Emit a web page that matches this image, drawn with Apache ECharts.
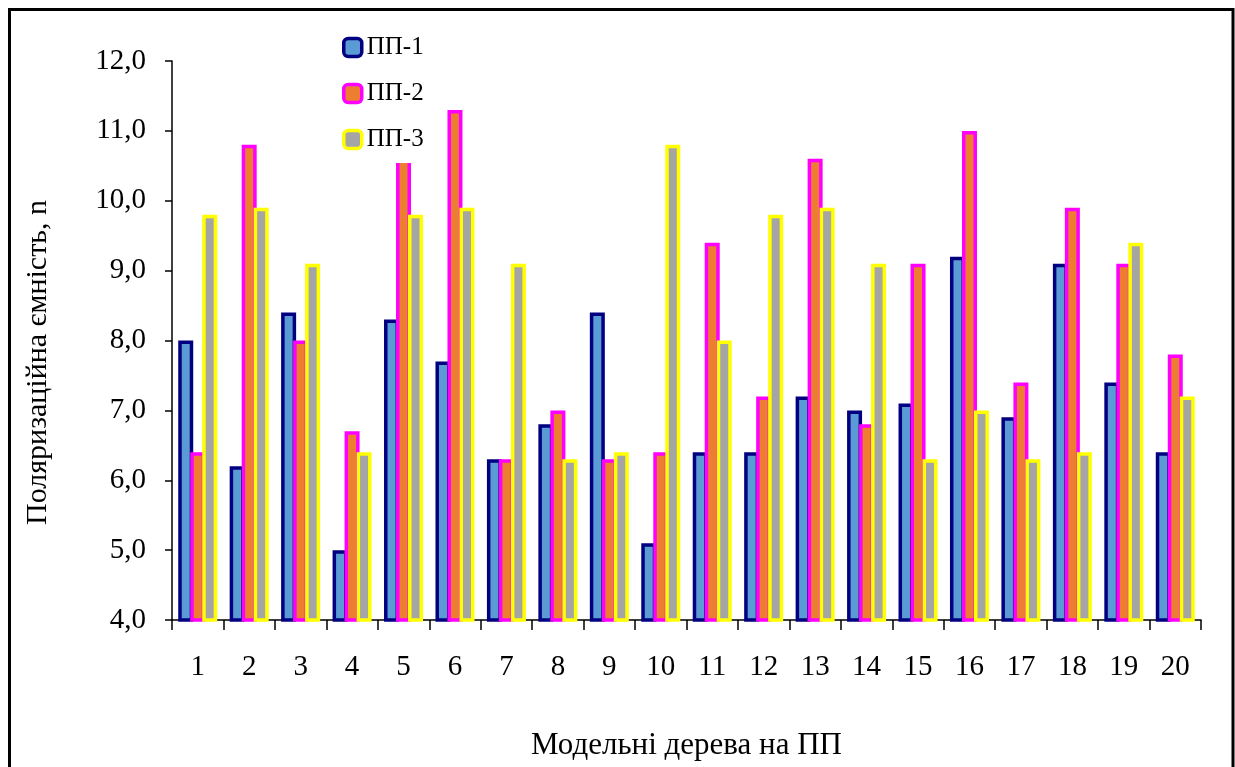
<!DOCTYPE html>
<html>
<head>
<meta charset="utf-8">
<script src="https://cdn.jsdelivr.net/npm/echarts@6/dist/echarts.min.js"></script>
<style>
html,body{margin:0;padding:0;background:#fff;}
#chart{width:1235px;height:767px;}
</style>
</head>
<body>
<div id="chart"></div>
<script>
const categories = ['1','2','3','4','5','6','7','8','9','10','11','12','13','14','15','16','17','18','19','20'];
const seriesNames = ['ПП-1','ПП-2','ПП-3'];
const pp1 = [8.0, 6.2, 8.4, 5.0, 8.3, 7.7, 6.3, 6.8, 8.4, 5.1, 6.4, 6.4, 7.2, 7.0, 7.1, 9.2, 6.9, 9.1, 7.4, 6.4];
const pp2 = [6.4, 10.8, 8.0, 6.7, 10.8, 11.3, 6.3, 7.0, 6.3, 6.4, 9.4, 7.2, 10.6, 6.8, 9.1, 11.0, 7.4, 9.9, 9.1, 7.8];
const pp3 = [9.8, 9.9, 9.1, 6.4, 9.8, 9.9, 9.1, 6.3, 6.4, 10.8, 8.0, 9.8, 9.9, 9.1, 6.3, 7.0, 6.3, 6.4, 9.4, 7.2];
const yTitle = 'Поляризаційна ємність, n';
const xTitle = 'Модельні дерева на ПП';

const font = 'Liberation Serif';
const fills = ['#5B9BD5', '#ED7D31', '#A5A5A5'];
const borders = ['#000080', '#FF00FF', '#FFFF00'];
const values = [pp1, pp2, pp3];

const chart = echarts.init(document.getElementById('chart'), null, {renderer: 'canvas'});
chart.setOption({
  animation: false,
  backgroundColor: '#ffffff',
  textStyle: {fontFamily: font, color: '#000'},
  graphic: [{
    type: 'rect', z: 0, silent: true,
    shape: {x: 9.5, y: 9.5, width: 1223.5, height: 800},
    style: {fill: 'none', stroke: '#000', lineWidth: 3}
  }],
  grid: {left: 172, right: 34, top: 61, bottom: 147, containLabel: false},
  legend: {
    orient: 'vertical',
    left: 332, top: 25,
    padding: [10, 10, 11, 10],
    backgroundColor: '#ffffff',
    itemWidth: 18, itemHeight: 18,
    itemGap: 21,
    data: seriesNames,
    itemStyle: {borderWidth: 3.5},
    textStyle: {fontFamily: font, fontSize: 25, color: '#000', lineHeight: 24, padding: [0,0,0,0]}
  },
  xAxis: {
    type: 'category',
    data: categories,
    name: xTitle,
    nameLocation: 'middle',
    nameGap: 110,
    nameTextStyle: {fontFamily: font, fontSize: 31, color: '#000'},
    axisLine: {lineStyle: {color: '#000', width: 1.5}},
    axisTick: {show: true, length: 10, inside: false, lineStyle: {color: '#000', width: 1.5}},
    axisLabel: {fontFamily: font, fontSize: 29, color: '#000', margin: 33, interval: 0}
  },
  yAxis: {
    type: 'value',
    min: 4, max: 12, interval: 1,
    name: yTitle,
    nameLocation: 'middle',
    nameGap: 119,
    nameTextStyle: {fontFamily: font, fontSize: 30, color: '#000', padding: [0, 44, 0, 0]},
    axisLine: {show: true, lineStyle: {color: '#000', width: 1.5}},
    axisTick: {show: true, length: 7, inside: false, lineStyle: {color: '#000', width: 1.5}},
    splitLine: {show: false},
    axisLabel: {
      fontFamily: font, fontSize: 29, color: '#000', margin: 26,
      formatter: v => v.toFixed(1).replace('.', ',')
    }
  },
  series: seriesNames.map((n, i) => ({
    name: n,
    type: 'bar',
    data: values[i],
    barWidth: 15,
    barGap: '-20%',
    itemStyle: {color: fills[i], borderColor: borders[i], borderWidth: 3.5}
  }))
});
</script>
</body>
</html>
